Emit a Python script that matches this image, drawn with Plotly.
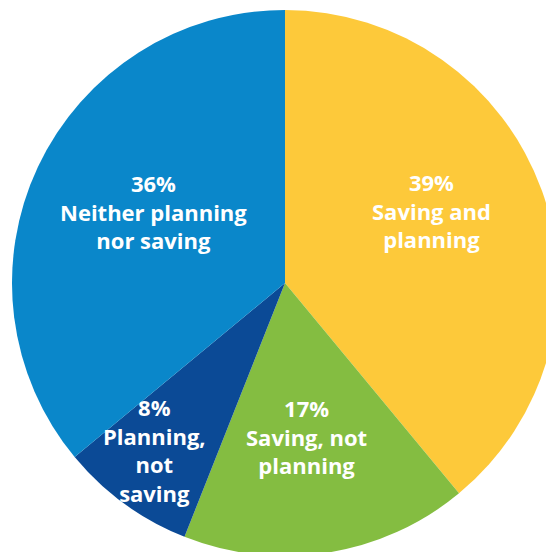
import math
import plotly.graph_objects as go

labels = ["Saving and<br>planning", "Saving, not<br>planning", "Planning,<br>not<br>saving", "Neither planning<br>nor saving"]
values = [39, 17, 8, 36]
colors = ["#FDC93A", "#84BD41", "#0B4A96", "#0A87CA"]
# label placement style: radial fraction and angular nudge (degrees)
label_r = [0.597, 0.568, 0.777, 0.549]
label_nudge = [-6.5, 1.2, 1.9, 3.1]

fig = go.Figure(go.Pie(
    labels=labels,
    values=values,
    sort=False,
    direction="clockwise",
    rotation=0,
    marker=dict(colors=colors, line=dict(width=0)),
    textinfo="none",
    hoverinfo="skip",
    showlegend=False,
))

total = sum(values)
cum = 0
for lab, v, f, nud in zip(labels, values, label_r, label_nudge):
    mid = (cum + v / 2) / total * 360 + nud
    cum += v
    th = math.radians(mid)
    fig.add_annotation(
        x=0.5 + 0.5 * f * math.sin(th),
        y=0.5 + 0.5 * f * math.cos(th),
        xref="paper", yref="paper",
        text=f"{v}%<br>{lab}",
        showarrow=False,
        xanchor="center", yanchor="middle",
        align="center",
        font=dict(family="Open Sans", size=22, color="white", weight="bold"),
    )

fig.update_layout(
    width=558, height=556,
    margin=dict(l=12, t=10, r=0, b=0),
    paper_bgcolor="white",
)
fig.write_html(
    "out.html",
    config={"displayModeBar": False},
    post_script="document.body.style.margin='0';document.body.style.overflow='hidden';document.documentElement.style.overflow='hidden';",
)
